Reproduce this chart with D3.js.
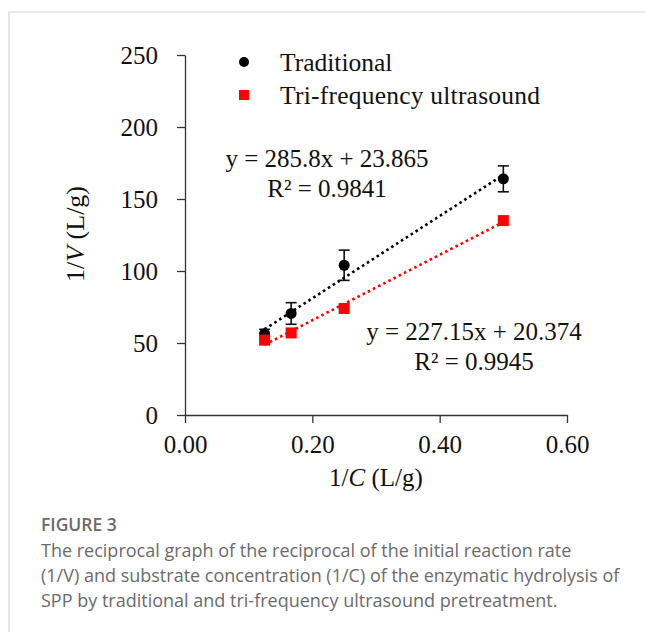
<!DOCTYPE html>
<html>
<head>
<meta charset="utf-8">
<script src="https://cdn.jsdelivr.net/npm/d3@7"></script>
<style>
  html, body { margin: 0; padding: 0; background: #fff; }
  svg { display: block; }
  .serif { font-family: "Liberation Serif", "Times New Roman", serif; fill: #111; }
  .cap { font-family: "Open Sans", "Noto Sans", sans-serif; fill: #6b6b6b; }
</style>
</head>
<body>
<script>
// Lineweaver–Burk data: 1/C (L/g) against 1/V (L/g)
const invC = [0.125, 0.1667, 0.25, 0.5];
const traditional = [56.5, 70.5, 104, 164];
const traditionalErr = [3, 7.5, 10.5, 9];
const ultrasound = [52, 57, 74, 135];
const seriesNames = ["Traditional", "Tri-frequency ultrasound"];
const fitTraditional = { slope: 285.8, intercept: 23.865, r2: "0.9841" };
const fitUltrasound = { slope: 227.15, intercept: 20.374, r2: "0.9945" };
const xTicks = [0, 0.2, 0.4, 0.6];
const yTicks = [0, 50, 100, 150, 200, 250];
const captionTitle = "FIGURE 3";
const captionLines = [
  "The reciprocal graph of the reciprocal of the initial reaction rate",
  "(1/V) and substrate concentration (1/C) of the enzymatic hydrolysis of",
  "SPP by traditional and tri-frequency ultrasound pretreatment."
];

const W = 646, H = 632;
const svg = d3.select("body").append("svg").attr("width", W).attr("height", H);

// card frame
svg.append("path").attr("d", `M9,${H} V12 H${W}`)
  .attr("fill", "none").attr("stroke", "#d4d4d4").attr("stroke-width", 1.2);

const x = d3.scaleLinear().domain([0, 0.6]).range([185, 567]);
const y = d3.scaleLinear().domain([0, 250]).range([415, 55]);

const axisColor = "#333";
const fontSize = 25;

// y axis
const gy = svg.append("g").attr("transform", `translate(${x(0)},0)`)
  .call(d3.axisLeft(y).tickValues(yTicks).tickFormat(d3.format("d")).tickSize(8).tickSizeOuter(0).tickPadding(19));
gy.selectAll("text").attr("class", "serif").style("font-size", fontSize + "px").attr("dy", "0.34em");

// x axis
const gx = svg.append("g").attr("transform", `translate(0,${y(0)})`)
  .call(d3.axisBottom(x).tickValues(xTicks).tickFormat(d3.format(".2f")).tickSize(8).tickSizeOuter(0).tickPadding(12));
gx.selectAll("text").attr("class", "serif").style("font-size", fontSize + "px");

[gx, gy].forEach(g => {
  g.select(".domain").attr("stroke", axisColor).attr("stroke-width", 1.3);
  g.selectAll(".tick line").attr("stroke", axisColor).attr("stroke-width", 1.3);
  g.attr("font-family", null).attr("font-size", null);
});

// axis titles
const xt = svg.append("text").attr("class", "serif").attr("x", 376).attr("y", 486)
  .attr("text-anchor", "middle").style("font-size", fontSize + "px");
xt.append("tspan").text("1/");
xt.append("tspan").attr("font-style", "italic").text("C");
xt.append("tspan").text(" (L/g)");

const yt = svg.append("text").attr("class", "serif")
  .attr("transform", `translate(84,234) rotate(-90)`)
  .attr("text-anchor", "middle").style("font-size", "26px");
yt.append("tspan").text("1/");
yt.append("tspan").attr("font-style", "italic").text("V");
yt.append("tspan").text(" (L/g)");

// dotted linear trendlines over the measured range
const xr = d3.extent(invC);
function trend(fit, color) {
  svg.append("line")
    .attr("x1", x(xr[0])).attr("y1", y(fit.slope * xr[0] + fit.intercept))
    .attr("x2", x(xr[1])).attr("y2", y(fit.slope * xr[1] + fit.intercept))
    .attr("stroke", color).attr("stroke-width", 2.6)
    .attr("stroke-dasharray", "2.6 3.2");
}
trend(fitTraditional, "#000");
trend(fitUltrasound, "#ff0000");

// error bars (traditional)
const eb = svg.append("g").attr("stroke", "#111").attr("stroke-width", 1.6);
invC.forEach((c, i) => {
  const cx = x(c), e = traditionalErr[i], v = traditional[i];
  eb.append("line").attr("x1", cx).attr("x2", cx).attr("y1", y(v + e)).attr("y2", y(v - e));
  [v + e, v - e].forEach(t => eb.append("line")
    .attr("x1", cx - 5.5).attr("x2", cx + 5.5).attr("y1", y(t)).attr("y2", y(t)));
});

// markers
svg.append("g").selectAll("circle").data(traditional).join("circle")
  .attr("cx", (d, i) => x(invC[i])).attr("cy", d => y(d)).attr("r", 5.5).attr("fill", "#000");
const sq = 11;
svg.append("g").selectAll("rect").data(ultrasound).join("rect")
  .attr("x", (d, i) => x(invC[i]) - sq / 2).attr("y", d => y(d) - sq / 2)
  .attr("width", sq).attr("height", sq).attr("fill", "#ff0000");

// legend
svg.append("circle").attr("cx", 244).attr("cy", 62).attr("r", 5).attr("fill", "#000");
svg.append("rect").attr("x", 239).attr("y", 90).attr("width", 10).attr("height", 10).attr("fill", "#ff0000");
svg.append("text").attr("class", "serif").attr("x", 280).attr("y", 71).style("font-size", "25.5px").text(seriesNames[0]);
svg.append("text").attr("class", "serif").attr("x", 280).attr("y", 104).style("font-size", "25.5px")
  .attr("textLength", 260).attr("lengthAdjust", "spacing").text(seriesNames[1]);

// regression equations
function eq(fit, cx, by) {
  svg.append("text").attr("class", "serif").attr("x", cx).attr("y", by)
    .attr("text-anchor", "middle").style("font-size", fontSize + "px")
    .text(`y = ${fit.slope}x + ${fit.intercept}`);
  svg.append("text").attr("class", "serif").attr("x", cx).attr("y", by + 30)
    .attr("text-anchor", "middle").style("font-size", fontSize + "px")
    .text(`R² = ${fit.r2}`);
}
eq(fitTraditional, 327, 167);
eq(fitUltrasound, 474, 340);

// caption
svg.append("text").attr("class", "cap").attr("x", 41).attr("y", 531)
  .style("font-size", "17.5px").style("font-weight", 600).attr("fill", "#5a5a5a").text(captionTitle);
captionLines.forEach((t, i) => {
  svg.append("text").attr("class", "cap").attr("x", 41).attr("y", 557 + i * 25)
    .style("font-size", "18px").text(t);
});
</script>
</body>
</html>
